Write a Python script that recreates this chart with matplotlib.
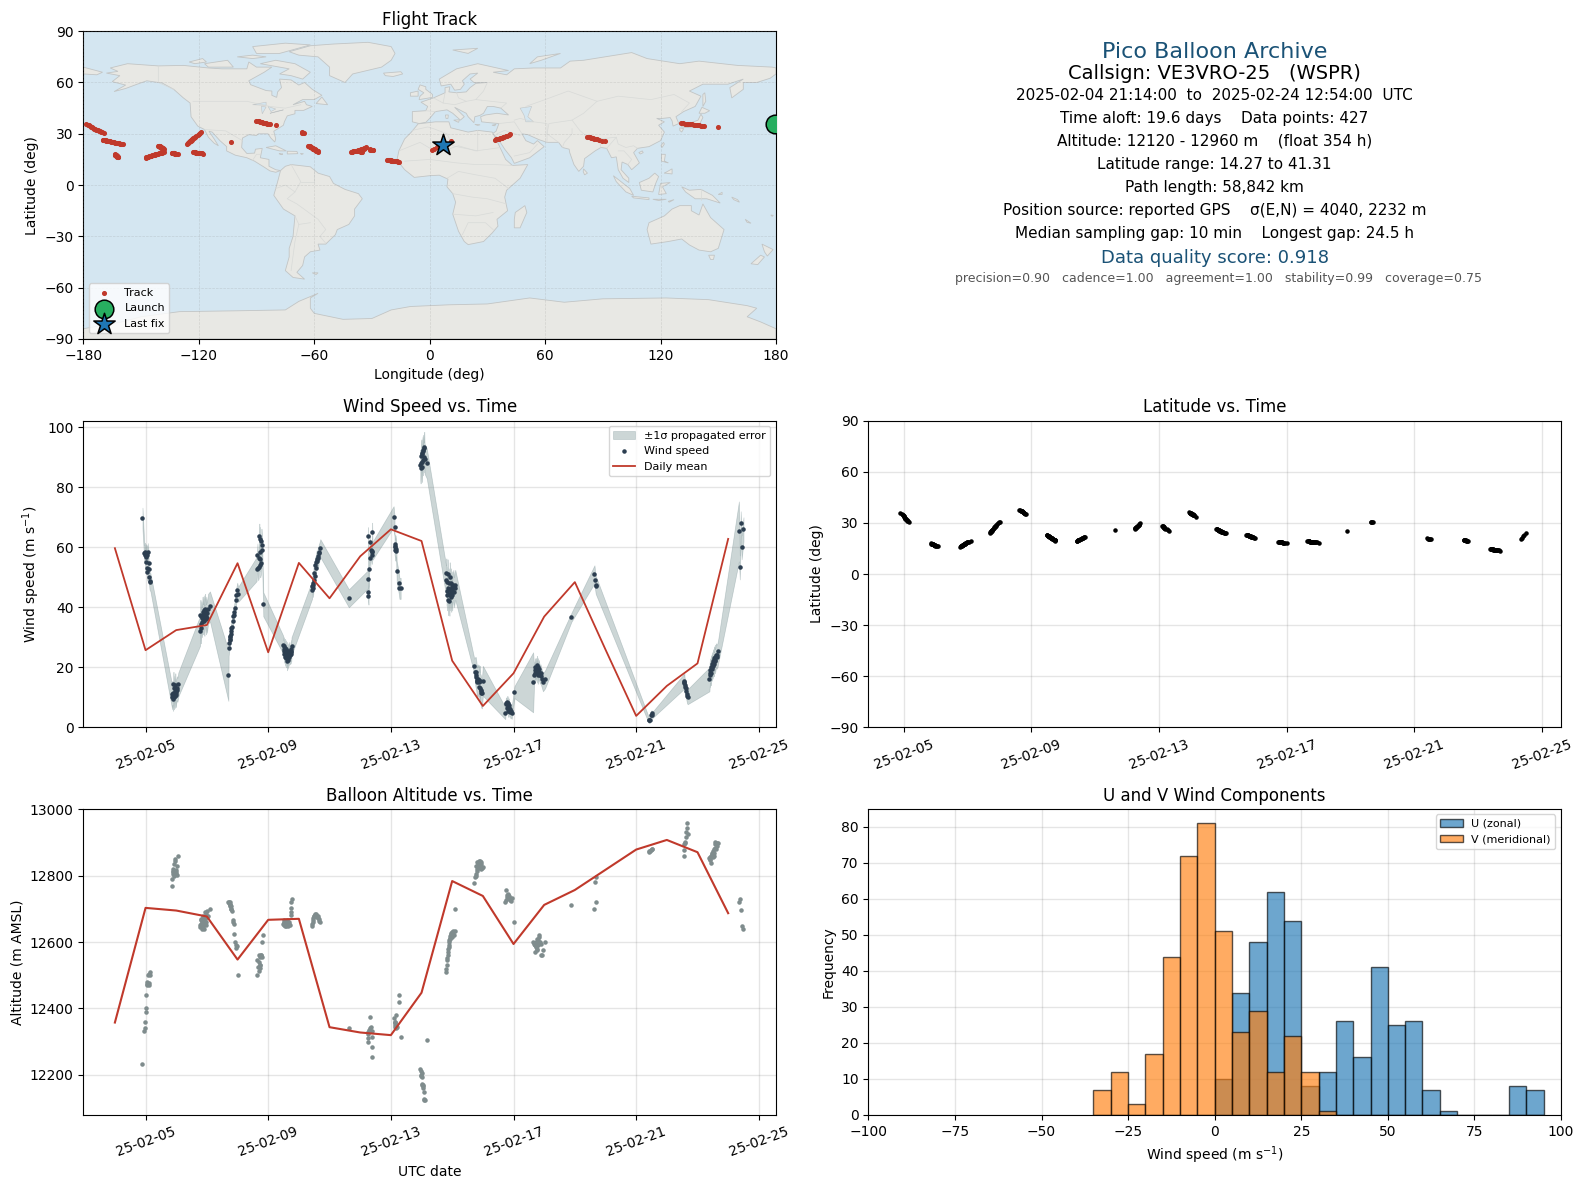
import numpy as np
import matplotlib
matplotlib.use("Agg")
import matplotlib.pyplot as plt
import matplotlib.dates as mdates
from datetime import datetime, timedelta
from matplotlib.patches import Polygon

# ---------- per-cluster flight data (DAY = day of February 2025, UTC) ----------
DAY = [
 [4.90,4.96,4.97,4.98,5.00,5.00,5.02,5.05,5.06,5.06,5.08,5.10,5.10,5.12,5.13,5.16],
 [5.85,5.87,5.88,5.89,5.90,5.91,5.92,5.93,5.94,5.95,5.96,5.97,5.98,5.99,6.00,6.02,6.04,6.07],
 [6.78,6.79,6.80,6.81,6.82,6.84,6.85,6.86,6.87,6.88,6.90,6.91,6.92,6.93,6.94,6.96,6.97,6.98,7.00,7.02,7.04,7.10],
 [7.70,7.71,7.73,7.74,7.75,7.76,7.77,7.78,7.79,7.80,7.82,7.84,7.86,7.88,7.89,7.91,7.94,7.96,7.99,8.02],
 [8.62,8.65,8.67,8.69,8.70,8.71,8.72,8.73,8.74,8.74,8.76,8.78,8.79,8.80,8.84],
 [9.49,9.50,9.51,9.52,9.53,9.54,9.55,9.56,9.57,9.58,9.59,9.60,9.61,9.62,9.63,9.64,9.65,9.66,9.67,9.69,9.71,9.74,9.74,9.75,9.75,9.76],
 [10.43,10.44,10.45,10.46,10.47,10.48,10.50,10.51,10.53,10.55,10.56,10.58,10.60,10.62,10.63,10.65,10.67,10.70],
 [11.63],
 [12.25,12.25,12.26,12.27,12.29,12.31,12.33,12.35,12.37,12.38,12.39,12.40],
 [13.09,13.12,13.12,13.14,13.15,13.15,13.16,13.17,13.19,13.26,13.28,13.32],
 [13.96,13.97,13.98,13.99,14.00,14.01,14.02,14.03,14.04,14.05,14.06,14.07,14.08,14.09,14.10,14.17],
 [14.80,14.81,14.82,14.83,14.84,14.85,14.86,14.87,14.88,14.89,14.90,14.91,14.92,14.93,14.94,14.95,14.96,14.97,14.98,14.99,15.00,15.02,15.04,15.06,15.08,15.10],
 [15.72,15.76,15.77,15.78,15.79,15.80,15.81,15.82,15.83,15.85,15.86,15.88,15.89,15.90,15.91,15.93,15.94,15.95,15.97,16.00],
 [16.73,16.75,16.77,16.79,16.80,16.81,16.82,16.83,16.84,16.85,16.86,16.88,16.90,16.92,16.94,17.03],
 [17.64,17.67,17.69,17.70,17.71,17.72,17.74,17.75,17.76,17.77,17.78,17.79,17.80,17.81,17.82,17.84,17.86,17.88,17.90,17.93,17.96,18.03],
 [18.89],
 [19.64,19.66,19.68,19.70],
 [21.41,21.43,21.45,21.47,21.50,21.52],
 [22.55,22.56,22.57,22.58,22.60,22.62,22.63,22.65,22.66,22.68],
 [23.39,23.40,23.41,23.42,23.43,23.45,23.46,23.47,23.48,23.50,23.51,23.52,23.53,23.54,23.55,23.56,23.57,23.58,23.60,23.62,23.65,23.68],
 [24.35,24.38,24.41,24.44,24.50],
]
WIND = [
 [69.7,58.1,57.6,58.5,55.0,56.8,58.1,57.4,53.2,51.9,58.4,54.7,52.9,50.0,48.9,48.3],
 [11.0,10.0,11.5,10.5,9.5,14.5,11.0,10.0,13.0,12.0,10.5,14.0,11.5,10.8,12.0,13.0,12.5,14.3],
 [32.2,37.5,33.0,34.5,37.0,35.0,36.5,38.5,36.0,37.5,39.0,36.5,35.5,38.0,39.5,37.0,36.0,38.5,36.5,38.0,39.5,40.3],
 [17.3,26.3,28.0,29.0,29.5,30.0,30.5,31.0,32.0,33.0,33.5,35.5,37.0,37.5,38.5,39.7,42.4,44.0,45.7,44.3],
 [52.7,57.3,53.0,53.6,56.6,63.9,56.0,62.7,58.3,54.0,54.9,62.2,60.7,59.0,41.0],
 [27.5,26.0,27.0,25.5,24.5,26.5,25.0,23.5,26.0,24.5,23.0,25.5,22.0,24.0,22.5,24.5,23.0,25.0,23.5,25.5,24.0,24.5,25.5,26.0,25.0,27.0],
 [45.8,47.0,48.0,46.5,47.5,51.5,49.0,50.5,54.0,53.0,55.0,56.0,55.5,57.0,56.5,58.0,58.5,59.7],
 [43.0],
 [49.3,63.7,45.0,43.9,52.7,61.7,56.6,59.1,58.6,57.5,65.2,58.8],
 [70.2,66.9,61.0,60.0,59.1,60.5,58.8,59.5,52.0,48.0,46.3,46.3],
 [87.5,86.3,88.0,90.5,91.0,86.8,88.5,91.5,92.0,89.0,92.5,90.0,93.0,93.5,89.5,88.0],
 [49.0,51.3,45.5,48.5,44.0,51.0,46.5,42.4,48.0,46.0,44.5,42.2,50.0,46.0,44.0,48.0,45.0,43.5,47.0,45.5,44.0,46.5,47.5,45.0,46.5,47.5],
 [20.4,18.5,18.3,17.5,16.9,15.5,15.8,15.0,16.0,15.5,15.2,15.8,13.5,15.5,13.0,12.5,12.0,11.5,11.3,15.5],
 [4.7,7.8,8.0,6.5,8.5,7.0,5.5,8.0,6.5,7.5,5.5,6.0,5.0,5.3,4.8,11.7],
 [15.0,17.4,19.0,18.0,20.0,18.5,19.5,20.2,18.0,20.8,19.0,17.5,20.0,18.5,19.5,18.5,17.5,18.0,17.0,16.0,15.0,16.0],
 [36.7],
 [51.0,49.0,47.5,47.0],
 [2.4,2.4,2.5,4.0,4.7,4.0],
 [15.2,14.8,15.5,14.0,13.5,13.0,12.0,11.0,10.5,10.2],
 [16.0,18.0,17.5,19.0,18.0,20.0,19.5,21.0,20.0,20.5,22.0,21.5,21.0,22.5,23.0,22.0,23.5,22.5,24.0,23.5,24.0,25.6],
 [65.3,53.3,68.0,60.0,66.0],
]
SIGMA_CLUSTER = [3.0,4.0,5.0,2.5,4.0,3.0,3.0,3.0,3.0,3.5,5.0,5.0,5.0,2.0,3.0,1.5,3.0,1.0,2.5,4.0,4.0]
SIGMA_FIRST   = [3.5,4.0,5.0,8.5,4.0,3.0,3.0,3.0,3.0,3.5,5.0,5.0,2.5,2.0,10.0,1.5,3.0,1.0,2.5,4.0,10.0]
ALTITUDE = [
 [12231,12330,12342,12360,12390,12402,12441,12472,12480,12470,12500,12470,12475,12503,12509,12500],
 [12790,12770,12810,12805,12815,12820,12800,12812,12835,12845,12808,12850,12818,12812,12805,12830,12802,12861],
 [12650,12645,12665,12655,12670,12640,12660,12675,12645,12680,12665,12640,12655,12670,12690,12660,12650,12685,12675,12695,12680,12700],
 [12720,12722,12718,12715,12712,12720,12710,12708,12700,12700,12695,12667,12660,12654,12624,12600,12590,12582,12587,12501],
 [12501,12547,12524,12512,12540,12560,12555,12522,12530,12530,12560,12562,12555,12600,12621],
 [12655,12660,12665,12650,12658,12662,12648,12655,12660,12652,12648,12665,12655,12650,12660,12652,12648,12658,12655,12660,12652,12682,12692,12702,12722,12730],
 [12649,12655,12660,12665,12672,12678,12680,12683,12685,12680,12684,12678,12675,12680,12672,12668,12663,12660],
 [12341],
 [12297,12310,12329,12322,12335,12374,12340,12344,12312,12330,12282,12252],
 [12372,12360,12355,12360,12350,12345,12340,12380,12345,12420,12441,12312],
 [12217,12210,12200,12195,12205,12192,12170,12172,12165,12168,12160,12147,12125,12123,12122,12303],
 [12510,12520,12530,12545,12552,12560,12570,12580,12585,12590,12600,12605,12610,12612,12618,12620,12625,12628,12615,12622,12630,12632,12625,12620,12632,12699],
 [12779,12795,12800,12805,12830,12815,12840,12820,12835,12825,12844,12830,12840,12822,12844,12835,12820,12840,12822,12825],
 [12720,12727,12757,12743,12735,12745,12738,12742,12735,12740,12732,12730,12728,12725,12732,12660],
 [12600,12595,12570,12590,12590,12600,12585,12575,12610,12590,12580,12600,12605,12590,12622,12615,12600,12595,12562,12560,12575,12600],
 [12711],
 [12699,12780,12720,12797],
 [12872,12874,12876,12878,12880,12880],
 [12860,12897,12877,12902,12900,12917,12932,12945,12960,12925],
 [12855,12858,12852,12848,12860,12839,12865,12870,12862,12858,12875,12868,12860,12880,12870,12895,12885,12902,12880,12900,12890,12900],
 [12720,12730,12696,12647,12639],
]
LATITUDE = [
 [36.0,35.2,34.9,34.6,34.1,33.9,33.5,33.0,32.7,32.5,32.2,31.8,31.6,31.2,30.9,30.5],
 [18.0,17.8,17.8,17.7,17.6,17.5,17.5,17.4,17.3,17.2,17.1,17.0,16.9,16.8,16.7,16.6,16.4,16.3],
 [16.0,16.2,16.3,16.5,16.6,16.8,17.0,17.1,17.2,17.4,17.6,17.7,17.8,17.9,18.1,18.3,18.4,18.5,18.7,18.9,19.0,19.3],
 [24.0,24.4,24.7,25.0,25.3,25.5,25.8,26.0,26.3,26.5,26.9,27.3,27.7,28.1,28.3,28.7,29.3,29.7,30.3,30.8],
 [37.6,37.4,37.2,37.0,36.9,36.8,36.7,36.5,36.4,36.3,36.1,35.9,35.7,35.5,35.0],
 [23.0,22.9,22.7,22.6,22.5,22.3,22.2,22.1,21.9,21.8,21.7,21.5,21.4,21.3,21.1,21.0,20.9,20.7,20.6,20.4,20.2,20.0,20.0,19.9,19.8,19.6],
 [19.2,19.4,19.5,19.7,19.8,19.9,20.1,20.2,20.4,20.6,20.7,20.9,21.1,21.3,21.4,21.6,21.8,22.0],
 [25.9],
 [26.5,26.8,27.0,27.2,27.5,27.8,28.1,28.4,28.7,29.0,29.4,29.8],
 [28.4,28.1,27.9,27.7,27.5,27.3,27.1,26.9,26.7,26.3,25.9,25.5],
 [36.3,36.1,36.0,35.9,35.8,35.6,35.5,35.4,35.3,35.2,35.0,34.9,34.8,34.7,34.6,33.7],
 [26.5,26.4,26.3,26.2,26.1,26.0,25.9,25.8,25.7,25.6,25.5,25.4,25.3,25.2,25.1,25.0,24.9,24.8,24.7,24.6,24.5,24.4,24.3,24.2,24.1,24.0],
 [23.1,23.0,22.9,22.8,22.8,22.7,22.6,22.5,22.4,22.3,22.2,22.1,22.0,21.9,21.9,21.8,21.7,21.6,21.4,21.2],
 [19.0,18.9,18.9,18.8,18.8,18.7,18.7,18.6,18.6,18.5,18.5,18.4,18.3,18.2,18.1,18.0],
 [19.2,19.2,19.2,19.1,19.1,19.1,19.0,19.0,19.0,18.9,18.9,18.9,18.8,18.8,18.8,18.7,18.7,18.6,18.6,18.5,18.5,18.4],
 [25.3],
 [30.8,30.7,30.5,30.4],
 [20.9,20.8,20.7,20.6,20.5,20.4],
 [19.9,19.9,19.8,19.8,19.7,19.7,19.6,19.6,19.5,19.5],
 [14.7,14.7,14.6,14.6,14.5,14.5,14.4,14.4,14.3,14.3,14.3,14.2,14.2,14.2,14.1,14.1,14.1,14.0,14.0,13.9,13.8,13.7],
 [20.6,21.4,22.2,23.0,24.0],
]
LONGITUDE = [
 [-178.5,-177.6,-177.0,-176.5,-175.9,-175.4,-174.9,-174.2,-173.7,-173.2,-172.6,-172.0,-171.5,-170.8,-170.2,-169.3],
 [-163.6,-163.5,-163.4,-163.3,-163.2,-163.1,-163.0,-162.9,-162.8,-162.7,-162.6,-162.6,-162.5,-162.4,-162.3,-162.2,-162.1,-162.0],
 [-147.5,-147.2,-146.8,-146.5,-146.2,-145.6,-145.3,-144.9,-144.6,-144.2,-143.6,-143.2,-142.9,-142.5,-142.1,-141.5,-141.2,-140.8,-140.2,-139.6,-139.0,-138.0],
 [-126.0,-125.7,-125.4,-125.1,-124.9,-124.7,-124.4,-124.2,-123.9,-123.7,-123.3,-122.9,-122.4,-122.0,-121.7,-121.3,-120.6,-120.1,-119.5,-119.0],
 [-90.0,-89.2,-88.7,-88.2,-87.8,-87.4,-87.0,-86.6,-86.2,-85.8,-85.2,-84.4,-83.6,-82.8,-80.0],
 [-63.0,-62.8,-62.6,-62.4,-62.2,-62.0,-61.8,-61.6,-61.4,-61.2,-61.0,-60.8,-60.6,-60.4,-60.2,-60.0,-59.8,-59.6,-59.4,-59.1,-58.9,-58.5,-58.5,-58.3,-58.2,-58.0],
 [-41.0,-40.6,-40.2,-39.8,-39.4,-39.0,-38.4,-38.0,-37.4,-36.8,-36.4,-35.8,-35.2,-34.6,-34.3,-33.9,-33.4,-33.0],
 [11.0],
 [34.0,34.7,35.3,36.0,36.7,37.4,38.1,38.8,39.6,40.3,41.2,42.0],
 [82.0,82.6,83.2,83.8,84.5,85.0,85.6,86.2,87.0,88.2,89.6,91.0],
 [130.5,131.5,132.5,133.5,134.5,135.5,136.5,137.3,138.0,138.8,139.5,140.2,141.0,141.7,142.5,150.0],
 [-170.0,-169.6,-169.2,-168.8,-168.4,-168.0,-167.6,-167.2,-166.8,-166.4,-166.0,-165.6,-165.2,-164.8,-164.4,-164.0,-163.6,-163.2,-162.8,-162.4,-162.0,-161.5,-161.0,-160.5,-160.0,-159.5],
 [-141.0,-140.8,-140.7,-140.6,-140.5,-140.4,-140.3,-140.2,-140.1,-139.9,-139.8,-139.6,-139.5,-139.4,-139.3,-139.1,-139.0,-138.8,-138.5,-138.0],
 [-134.0,-133.8,-133.6,-133.4,-133.3,-133.2,-133.1,-133.0,-132.9,-132.8,-132.7,-132.5,-132.3,-132.1,-131.9,-131.0],
 [-123.0,-122.7,-122.4,-122.2,-122.0,-121.8,-121.6,-121.4,-121.2,-121.0,-120.8,-120.6,-120.4,-120.2,-120.0,-119.8,-119.6,-119.4,-119.2,-118.8,-118.5,-118.0],
 [-103.0],
 [-66.5,-66.1,-65.6,-65.2],
 [-31.0,-30.8,-30.4,-30.0,-29.6,-29.3],
 [-37.0,-36.9,-36.7,-36.5,-36.3,-36.1,-35.9,-35.7,-35.5,-35.0],
 [-22.0,-21.7,-21.5,-21.2,-21.0,-20.6,-20.4,-20.2,-20.0,-19.6,-19.4,-19.2,-19.0,-18.8,-18.6,-18.4,-18.2,-18.0,-17.6,-17.2,-16.6,-16.0],
 [1.0,2.5,4.0,5.5,7.0],
]
LAUNCH = (179.5, 35.6)
LAST_FIX = (7.0, 23.3)
BAND_GAP_DAY = 13.6

MEAN_DAYS = list(range(4, 25))
WIND_MEAN = [59.7,25.7,32.4,34.1,54.7,25.0,54.8,43.0,57.0,66.0,62.1,22.2,7.1,18.0,36.9,48.4,25.9,3.8,13.8,21.3,62.8]
ALT_MEAN = [12357,12703,12695,12677,12547,12667,12670,12343,12327,12319,12447,12784,12739,12594,12712,12757,12818,12879,12908,12871,12687]

BIN_LEFT = list(range(-35, 95, 5))
U_COUNTS = [0,0,0,0,0,0,0,10,34,48,62,54,8,12,26,16,41,25,26,7,1,0,0,0,8,7]
V_COUNTS = [7,12,3,17,44,72,81,51,23,29,12,22,12,1,0,0,0,0,0,0,0,0,0,0,0,0]

# ---------- simplified geography (lon, lat) ----------
LAND = [
 [(-168,65.5),(-162,66.5),(-166,68.5),(-157,71),(-141,69.7),(-128,70),(-115,68.5),(-108,68),(-95,68),(-94,72),(-90,69),(-82,69),(-86,66),(-94,61),(-93,58.7),(-85,55.3),(-82,55),(-82,52.5),(-79.5,51.3),(-79,54.5),(-77,57),(-78,62),(-72,61.5),(-68,58.5),(-65,60),(-61,56),(-56,52.5),(-60,50),(-66,50),(-71,47),(-65,49),(-64,47),(-61,46),(-65.5,43.7),(-70,43.7),(-70,41.7),(-74,40.5),(-75.5,37),(-76,35),(-81,31.5),(-80,27),(-80.5,25.2),(-82.5,27.5),(-84,30),(-89,30),(-90,29),(-94,29.5),(-97.3,27.5),(-97.7,22),(-95,18.5),(-91,18.7),(-90.5,21),(-87,21.5),(-88,16),(-83.5,15),(-83.5,11),(-80,9),(-77.5,8.5),(-80,7.5),(-83,8.3),(-86,10.5),(-91,14),(-95,16),(-101,17.5),(-105.5,20),(-105.5,22.5),(-109,26),(-113,31),(-114.7,31.5),(-112,27),(-109.8,23),(-112,24.5),(-115,28),(-117,32.5),(-120.5,34.5),(-124,40),(-124.5,48),(-128,51),(-133,56),(-139,59.7),(-147,61),(-152,59),(-158,56.5),(-164,54.7),(-158,58.5),(-165,60.5),(-161,64)],
 [(-77.5,8.5),(-75,11),(-72,12),(-68,11.5),(-62,10.7),(-58,7),(-52,5),(-50,1),(-44,-2.5),(-37,-5),(-35,-8),(-39,-14),(-39,-18),(-42,-23),(-48,-26),(-49,-29),(-54,-34.5),(-58,-34.5),(-57,-38),(-62,-39),(-65,-42),(-66,-47),(-69,-51),(-65,-55),(-71,-54),(-75,-50),(-73,-42),(-73,-37),(-71,-30),(-70,-18),(-76,-14),(-81,-6),(-80,-2),(-79,2)],
 [(-73,78),(-68,76),(-58,75),(-52,69),(-52,64),(-44,60),(-40,65),(-25,69),(-20,73),(-18,77),(-20,81),(-32,83.5),(-50,82.5),(-62,81.5)],
 [(-80,73),(-70,71),(-62,66),(-66,62),(-72,64),(-78,65),(-73,68),(-88,71)],
 [(-117,71),(-105,73),(-102,69),(-115,69)],
 [(-90,77),(-78,77),(-62,82),(-75,83),(-92,81)],
 [(-125,72),(-118,74),(-116,72),(-122,71)],
 [(-100,75),(-92,76),(-85,75),(-92,74)],
 [(-59,47.7),(-56,51.5),(-53,47)],
 [(-85,22),(-80,23),(-74.5,20),(-78,20)],
 [(-74,19.8),(-69,19.7),(-68.5,18.4),(-74,18.2)],
 [(-78.3,18.4),(-76.3,18.2),(-77,17.8)],
 [(-67.2,18.5),(-65.6,18.4),(-66.5,17.9)],
 [(-24,65.5),(-15,66.3),(-14,65),(-19,63.5),(-23,64)],
 [(-9,37),(-9,43),(-2,43.5),(-1,46),(-4.5,48.5),(2,51),(8,54),(8,57),(10.5,57.5),(10,54.5),(14,54),(19,54.5),(21,57),(24,59.5),(30,60),(23,60),(21,62),(25,65.5),(21,65),(17,61),(18,59),(16,56),(13,55.5),(11,59),(6,58),(5,62),(14,68),(25,71),(41,67),(33,66),(40,64.5),(44,68),(54,68.5),(68,68.5),(73,72.5),(80,73),(105,77.5),(113,74),(130,71),(140,72.5),(160,70),(178,69),(180,68.5),(180,65),(177,62.5),(170,60),(163,60),(163,56),(157,51),(156,57),(163,62),(155,59),(142,59),(135,55),(141,52),(138,46),(132,43),(128,40),(129.5,36),(126.5,34.5),(126,37.5),(125,39.5),(121,39),(118,39),(122,37),(119,35),(122,31),(120,26),(114,22.5),(108,21.5),(106,19),(109,13),(105,9),(103,12),(100,13.5),(99.5,9),(103.5,4),(103.5,1.5),(100.5,4),(98,9),(97,16.5),(94.5,16),(92,21.5),(89,22),(86,20),(80.5,15.5),(80,11),(77.5,8),(75,12),(72.8,19),(72.5,21),(69,22),(67,25),(61,25),(57,26.5),(51,29.5),(48,30),(50,26),(54,24),(56,26),(59.5,22.5),(52,16),(44,12.7),(42.5,16),(39,21),(35,28),(32.5,30),(34.5,31.5),(36,36),(31,36.5),(27,37),(26.5,40),(29,41),(35,42),(41,41),(37,45),(33,46),(30,46),(28,42),(26,40.7),(23.5,40),(23,36.5),(20,40),(19,42),(13,45.5),(18,40),(16,38),(12,42),(9,44),(3,43),(0,39),(-2,36.7),(-5.5,36)],
 [(-6,35.8),(3,37),(10,37),(11,33.5),(20,31),(25,32),(32.5,31),(34,28),(37,21),(39.5,15),(43,11.5),(51,12),(47,4),(40,-3),(39,-7),(40.5,-15),(35,-20),(35.5,-24),(32.5,-28),(28,-33),(20,-34.8),(18,-33),(15,-27),(12,-17),(13.5,-10),(12,-5),(9,-1),(9.5,3.5),(5,5.8),(0,5.5),(-8,4.5),(-13,9),(-17,14.7),(-16,20),(-13,27),(-9.5,31)],
 [(-5.5,50),(1.5,51.3),(1.5,53),(-2,56),(-2,57.5),(-5,58.6),(-6,56),(-3,54),(-5,52)],
 [(-10,52),(-6,52),(-6,55),(-10,54)],
 [(8.2,41),(9.7,41),(9.5,39),(8.5,39)],
 [(12.5,38),(15.5,38.2),(15,36.7)],
 [(23.5,35.5),(26.2,35.3),(25,34.9)],
 [(32.4,35),(34.5,35.6),(33.8,34.7)],
 [(49.5,-12),(50.5,-16),(47,-25),(44,-25),(44,-20),(44.5,-16)],
 [(80,9.5),(82,7),(80.5,6),(79.8,8)],
 [(130.8,34),(136,33.5),(140,35),(142,39.5),(141,41.5),(139.5,38),(136,36.5),(132,35.3)],
 [(140,42),(141.5,45.5),(145.5,43.5),(143,42)],
 [(130,33.5),(132,33),(131,31),(130,32)],
 [(142,46),(143.5,49),(143,54),(142,53)],
 [(120.2,23),(121.5,25),(122,24),(120.8,22)],
 [(108.7,19),(110.5,20),(111,19),(109.5,18.2)],
 [(120.5,18),(122.5,18),(122,14),(124,13),(120.5,14)],
 [(122,7),(126,9.5),(126,6.5),(122.5,7)],
 [(109,1.5),(114,4),(117,7),(119,5),(117.5,1),(116,-4),(110,-3)],
 [(95.5,5.5),(104,-2),(106,-6),(102,-4),(97,2)],
 [(105,-6.5),(114,-7.5),(114,-8.5),(106,-7.5)],
 [(116,-8.3),(123,-8.3),(119,-9)],
 [(124,-9.5),(127,-8.5),(124.5,-10)],
 [(119,-5.5),(120,1),(125,1.5),(121,-1),(123,-5)],
 [(131,-1),(135,-3),(141,-2.5),(147,-6),(151,-10.5),(144,-8),(138,-8),(133,-4)],
 [(150,-5.5),(152,-4.2),(152,-5.5)],
 [(157,-7),(160,-8.5),(161,-10),(158,-8.5)],
 [(164,-20),(167,-22.3),(165,-21.8)],
 [(177.3,-17.5),(178.6,-17.7),(178,-18.3)],
 [(114,-22),(122,-18),(126,-14),(130,-12),(136,-12),(136,-15),(140,-17.5),(142,-11),(146,-19),(153,-26),(150,-37),(146,-39),(140,-38),(135,-35),(131,-31.5),(124,-33),(115,-34.5),(113,-26)],
 [(145,-41),(148,-41),(147.5,-43.5),(146,-43.5)],
 [(172.7,-34.5),(178.5,-37.7),(175.5,-41.5),(174,-39)],
 [(172,-41),(174,-42),(170.5,-46.5),(167,-46),(171,-42)],
 [(-61,-51.3),(-58,-51.3),(-59,-52.3)],
 [(12,79),(25,80),(20,77)],
 [(52,71),(56,75),(68,77),(58,73)],
 [(-180,65),(-173,64.5),(-170,66),(-180,69)],
 [(-180,-84),(-160,-80),(-150,-77),(-130,-74),(-100,-73.5),(-75,-73),(-68,-68),(-58,-63.3),(-62,-66),(-62,-72),(-60,-75),(-45,-78.5),(-30,-78),(-20,-73),(-10,-71),(10,-70),(30,-69.5),(52,-66),(70,-68.5),(90,-66.5),(123,-66),(145,-67),(165,-70.5),(170,-72),(165,-77),(172,-80),(180,-84),(180,-90),(-180,-90)],
]
SEAS = [
 [(47,45),(53,46),(51,40),(54,37),(50,37),(49,41)],
 [(-92,47),(-85,48.5),(-85,46.7)],
 [(-87.5,46),(-85,45.7),(-87,41.7)],
 [(-84,46),(-80,44.5),(-82.5,43),(-83.5,45)],
 [(-83,42),(-79,43),(-76,44),(-79,43.3)],
]
BORDERS = [
 [(-141,69.7),(-141,60),(-133,56)],
 [(-123,49),(-95,49),(-83,46),(-75,45),(-67,47)],
 [(-117,32.5),(-106,31.7),(-97.3,26)],
 [(-92,14.5),(-90,18),(-88,18)],
 [(-72,12),(-67,2),(-70,-4),(-74,-8),(-69,-11),(-58,-20),(-54,-26),(-57,-30),(-54,-34)],
 [(-70,-18),(-68,-23),(-70,-33),(-72,-50)],
 [(-60,8),(-60,2),(-67,2)],
 [(-80,-2),(-75,0),(-70,-4)],
 [(-62,-22),(-68,-23)],
 [(-9,32),(-1,34),(2,33),(9,30),(12,23),(25,20),(25,32)],
 [(-16,20),(-5,25),(4,19),(15,23),(24,20),(37,22)],
 [(-13,14),(0,15),(14,13),(24,12),(34,12),(43,11.5)],
 [(9,4),(15,8),(24,6),(34,4),(41,-2)],
 [(12,-5),(22,-7),(30,-8),(40,-11)],
 [(12,-17),(24,-18),(33,-16)],
 [(17,-29),(20,-22),(29,-22),(33,-26)],
 [(30,60),(28,55),(24,50),(40,48),(37,45)],
 [(-2,43.5),(3,43)],[(2,51),(7,48),(13,47),(19,49),(24,50)],[(8,54),(7,48)],[(14,54),(15,51),(19,49)],
 [(44,38),(47,39),(54,37),(61,36),(61,25)],
 [(36,36),(44,37),(48,30)],[(35,30),(39,32),(47,29)],[(44,17),(52,19),(56,24)],
 [(50,46),(60,50),(72,55),(87,49),(98,52),(115,50),(127,53),(135,48),(131,43)],
 [(87,49),(80,42),(74,38),(62,36),(61,30),(67,25)],
 [(74,38),(78,32),(81,29),(88,27),(97,28),(98,24),(102,22),(106,23),(108,21.5)],
 [(74,33),(74,30),(70,25),(69,22)],[(88,27),(89,22)],[(92,21.5),(97,28)],
 [(98,20),(101,20),(105,15),(103,12)],
 [(141,-2.5),(141,-9)],
]

def day_to_dt(values):
    return [datetime(2025, 2, 1) + timedelta(days=float(v) - 1) for v in values]

day = np.concatenate(DAY)
wind = np.concatenate(WIND)
alt = np.concatenate(ALTITUDE)
lat = np.concatenate(LATITUDE)
lon = np.concatenate(LONGITUDE)
sigma = np.concatenate([np.r_[f, np.full(len(d) - 1, s)] for d, s, f in zip(DAY, SIGMA_CLUSTER, SIGMA_FIRST)])
t = day_to_dt(day)
mt = day_to_dt(MEAN_DAYS)

W, H = 1587, 1189
fig = plt.figure(figsize=(W / 100, H / 100), dpi=100)
def box(x0, y0, x1, y1):
    return fig.add_axes([x0 / W, 1 - y1 / H, (x1 - x0) / W, (y1 - y0) / H])

NAVY = "#2c3e50"; RED = "#c0392b"; GREY = "#7f8c8d"; TITLE_BLUE = "#1a5276"; BAND = "#6f8a8c"
LX0, LX1, RX0, RX1 = 83.3, 776.0, 868.4, 1561.0
MARK = 5

# ---- map ----
ax = box(LX0, 31.2, LX1, 339.0)
ax.set_facecolor("#d4e6f1")
for poly in LAND:
    ax.add_patch(Polygon(poly, closed=True, fc="#e8e8e4", ec="#c2c5c5", lw=0.6, zorder=1))
for poly in SEAS:
    ax.add_patch(Polygon(poly, closed=True, fc="#d4e6f1", ec="#c2c5c5", lw=0.4, zorder=1.1))
for line in BORDERS:
    xs, ys = zip(*line)
    ax.plot(xs, ys, color="#d8dad8", lw=0.5, zorder=1.2)
ax.grid(True, color="grey", alpha=0.22, lw=0.5, ls="--", zorder=1.5)
ax.set_axisbelow(False)
ax.scatter(lon, lat, s=7, color=RED, zorder=3, label="Track")
ax.scatter(*LAUNCH, s=180, color="#27ae60", edgecolor="black", lw=1.1, zorder=4, label="Launch")
ax.scatter(*LAST_FIX, s=260, marker="*", color="#1f77b4", edgecolor="black", lw=1.1, zorder=5, label="Last fix")
ax.set_xlim(-180, 180); ax.set_ylim(-90, 90)
ax.set_xticks(range(-180, 181, 60)); ax.set_yticks(range(-90, 91, 30))
ax.set_xticklabels(["\u2212180","\u2212120","\u221260","0","60","120","180"])
ax.set_yticklabels(["\u221290","\u221260","\u221230","0","30","60","90"])
ax.set_xlabel("Longitude (deg)"); ax.set_ylabel("Latitude (deg)")
ax.set_title("Flight Track", fontsize=12, pad=4.8)
ax.legend(loc="lower left", fontsize=8)

# ---- shared time axis ----
TICKS = day_to_dt([5, 9, 13, 17, 21, 25])
def fmt_time(a, lo, hi):
    a.set_xticks(TICKS)
    a.xaxis.set_major_formatter(mdates.DateFormatter("%y-%m-%d"))
    a.set_xlim(*day_to_dt([lo, hi]))
    a.tick_params(axis="x", labelrotation=20)
    a.grid(True, color="grey", alpha=0.2, lw=1.0)
    a.set_axisbelow(True)

# ---- wind ----
ax = box(LX0, 420.7, LX1, 727.3)
early = day < BAND_GAP_DAY
tt = np.array(t)
ax.fill_between(tt[early], (wind - sigma)[early], (wind + sigma)[early], color=BAND, alpha=0.35, lw=0.5,
                label="\u00b11\u03c3 propagated error")
ax.fill_between(tt[~early], (wind - sigma)[~early], (wind + sigma)[~early], color=BAND, alpha=0.35, lw=0.5)
ax.scatter(t, wind, s=MARK, color=NAVY, zorder=3, label="Wind speed")
ax.plot(mt, WIND_MEAN, color=RED, lw=1.3, zorder=4, label="Daily mean")
fmt_time(ax, 2.97, 25.56)
ax.set_ylim(0, 102.2)
ax.set_ylabel("Wind speed (m s$^{-1}$)")
ax.set_title("Wind Speed vs. Time", fontsize=12)
ax.legend(loc="upper right", fontsize=8)

# ---- latitude ----
ax = box(RX0, 420.7, RX1, 727.3)
ax.scatter(t, lat, s=MARK, color="black", zorder=3)
fmt_time(ax, 3.9, 25.6)
ax.set_ylim(-90, 90)
ax.set_yticks(range(-90, 91, 30))
ax.set_yticklabels(["\u221290","\u221260","\u221230","0","30","60","90"])
ax.set_ylabel("Latitude (deg)")
ax.set_title("Latitude vs. Time", fontsize=12)

# ---- altitude ----
ax = box(LX0, 808.8, LX1, 1115.0)
ax.scatter(t, alt, s=MARK, color=GREY, zorder=3)
ax.plot(mt, ALT_MEAN, color=RED, lw=1.5, zorder=4)
fmt_time(ax, 2.97, 25.56)
ax.set_ylim(12078, 13002)
ax.set_yticks(range(12200, 13001, 200))
ax.set_ylabel("Altitude (m AMSL)")
ax.set_xlabel("UTC date")
ax.set_title("Balloon Altitude vs. Time", fontsize=12, pad=5.5)

# ---- histogram ----
ax = box(RX0, 808.8, RX1, 1115.0)
ax.bar(BIN_LEFT, U_COUNTS, width=5, align="edge", color="#1f77b4", alpha=0.65, edgecolor="black", lw=1.0, label="U (zonal)")
ax.bar(BIN_LEFT, V_COUNTS, width=5, align="edge", color="#ff7f0e", alpha=0.65, edgecolor="black", lw=1.0, label="V (meridional)")
ax.set_xlim(-100, 100); ax.set_ylim(0, 85.05)
ax.set_xticks(range(-100, 101, 25))
ax.set_xticklabels(["\u2212100","\u221275","\u221250","\u221225","0","25","50","75","100"])
ax.grid(True, color="grey", alpha=0.2, lw=1.0)
ax.set_axisbelow(True)
ax.set_xlabel("Wind speed (m s$^{-1}$)"); ax.set_ylabel("Frequency")
ax.set_title("U and V Wind Components", fontsize=12, pad=5.5)
ax.legend(loc="upper right", fontsize=8)

# ---- info block ----
INFO = [
 ("Pico Balloon Archive", 51.6, 16, TITLE_BLUE, 1214.7),
 ("Callsign: VE3VRO-25   (WSPR)", 73.6, 14, "black", 1214.7),
 ("2025-02-04 21:14:00  to  2025-02-24 12:54:00  UTC", 95.2, 11, "black", 1214.7),
 ("Time aloft: 19.6 days    Data points: 427", 118.4, 11, "black", 1213.7),
 ("Altitude: 12120 - 12960 m    (float 354 h)", 140.7, 11, "black", 1214.7),
 ("Latitude range: 14.27 to 41.31", 164.2, 11, "black", 1214.7),
 ("Path length: 58,842 km", 187.8, 11, "black", 1214.7),
 ("Position source: reported GPS    \u03c3(E,N) = 4040, 2232 m", 210.2, 11, "black", 1214.7),
 ("Median sampling gap: 10 min    Longest gap: 24.5 h", 233.6, 11, "black", 1214.7),
 ("Data quality score: 0.918", 258.0, 13, TITLE_BLUE, 1214.7),
 ("precision=0.90   cadence=1.00   agreement=1.00   stability=0.99   coverage=0.75", 278.3, 9, "#555555", 1218.7),
]
for txt, y, fs, col, x in INFO:
    fig.text(x / W, 1 - y / H, txt, ha="center", va="center", fontsize=fs, color=col)

fig.savefig("out.png", dpi=100)
